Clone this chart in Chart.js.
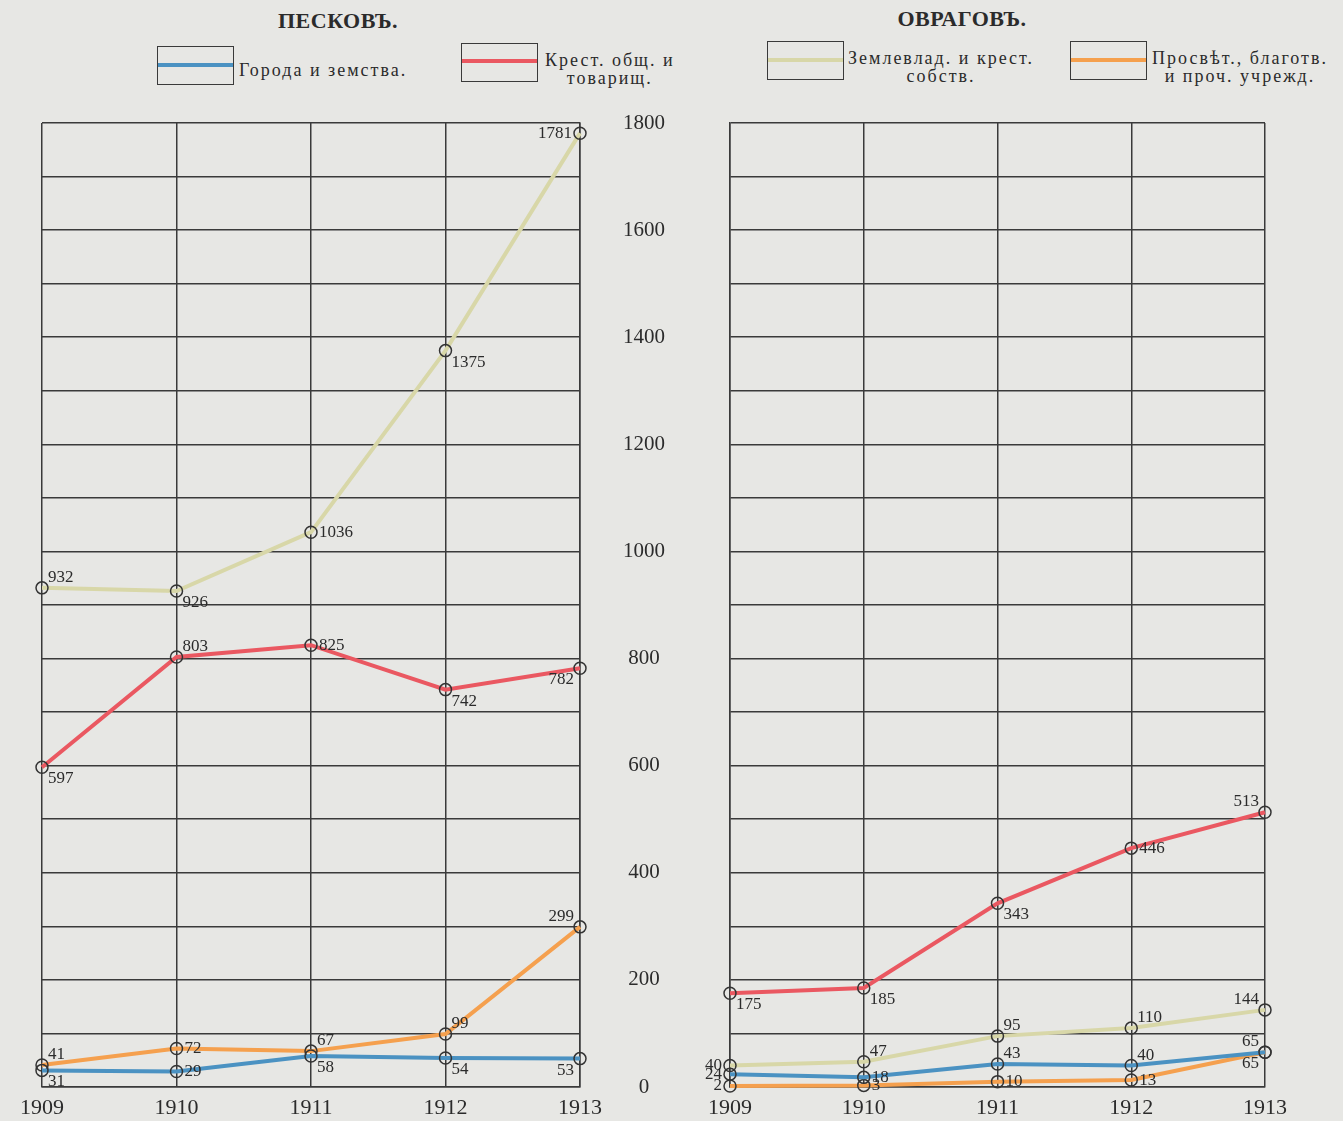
<!DOCTYPE html>
<html>
<head>
<meta charset="utf-8">
<script src="https://cdn.jsdelivr.net/npm/chart.js@4.4.0/dist/chart.umd.min.js"></script>
<style>
body{margin:0;background:#e7e7e4;width:1343px;height:1121px;position:relative;overflow:hidden;font-family:"Liberation Serif",serif;color:#2b2b2b}
.title{position:absolute;font-weight:bold;font-size:22px;letter-spacing:0.5px;transform:translateX(-50%);white-space:nowrap}
.box{position:absolute;width:77px;height:39px;border:1.5px solid #3a3a3a;box-sizing:border-box}
.box i{position:absolute;left:0;right:0;height:4px}
.lt{position:absolute;font-size:18px;line-height:18px;text-align:center;white-space:nowrap;letter-spacing:2px}
.wrap{position:absolute}
</style>
</head>
<body>
<div class="title" style="left:338px;top:8px">ПЕСКОВЪ.</div>
<div class="title" style="left:962px;top:6px">ОВРАГОВЪ.</div>

<div class="box" style="left:157px;top:46px"><i id="lg0" style="top:16px"></i></div>
<div class="lt" style="left:239px;top:61px">Города и земства.</div>
<div class="box" style="left:461px;top:43px"><i id="lg1" style="top:15px"></i></div>
<div class="lt" style="left:545px;top:51px">Крест. общ. и<br>товарищ.</div>
<div class="box" style="left:767px;top:41px"><i id="lg2" style="top:16px"></i></div>
<div class="lt" style="left:848px;top:49px">Землевлад. и крест.<br>собств.</div>
<div class="box" style="left:1070px;top:41px"><i id="lg3" style="top:16px"></i></div>
<div class="lt" style="left:1152px;top:49px">Просвѣт., благотв.<br>и проч. учрежд.</div>

<div class="wrap" style="left:0;top:100px"><canvas id="left" width="700" height="1021"></canvas></div>
<div class="wrap" style="left:700px;top:100px"><canvas id="right" width="643" height="1021"></canvas></div>

<script>
const years = ['1909', '1910', '1911', '1912', '1913'];
const seriesNames = ['Города и земства.', 'Крест. общ. и товарищ.', 'Землевлад. и крест. собств.', 'Просвѣт., благотв. и проч. учрежд.'];
const yTicks = [0, 200, 400, 600, 800, 1000, 1200, 1400, 1600, 1800];

// Песковъ
const leftTowns = [31, 29, 58, 54, 53];
const leftPeasants = [597, 803, 825, 742, 782];
const leftLandowners = [932, 926, 1036, 1375, 1781];
const leftEducation = [41, 72, 67, 99, 299];

// Овраговъ
const rightTowns = [24, 18, 43, 40, 65];
const rightPeasants = [175, 185, 343, 446, 513];
const rightLandowners = [40, 47, 95, 110, 144];
const rightEducation = [2, 3, 10, 13, 65];

const colors = ['#4b92c2', '#ea5861', '#d8d7a8', '#f5a04e'];

// where each value label sits relative to its point
const leftPlace = [
  ['se', 'e', 'se', 'se', 'sw'],
  ['se', 'ne', 'e', 'se', 'sw'],
  ['ne', 'se', 'e', 'se', 'w'],
  ['ne', 'e', 'ne', 'ne', 'nw']
];
const rightPlace = [
  ['w', 'e', 'ne', 'ne', 'nw'],
  ['se', 'se', 'se', 'e', 'nw'],
  ['w', 'ne', 'ne', 'ne', 'nw'],
  ['w', 'e', 'e', 'e', 'sw']
];

colors.forEach((c, i) => document.getElementById('lg' + i).style.background = c);

const valueLabels = {
  id: 'valueLabels',
  afterDatasetsDraw(chart, args, opts) {
    const ctx = chart.ctx;
    ctx.save();
    ctx.font = '17px "Liberation Serif"';
    ctx.fillStyle = '#2b2b2b';
    chart.data.datasets.forEach((ds, di) => {
      chart.getDatasetMeta(di).data.forEach((pt, i) => {
        const p = opts.place[di][i];
        let x = pt.x, y = pt.y;
        ctx.textAlign = p.includes('w') ? 'right' : 'left';
        x += p.includes('w') ? -6 : 6;
        if (p.includes('n')) { ctx.textBaseline = 'bottom'; y -= 2; }
        else if (p.includes('s')) { ctx.textBaseline = 'top'; y += 3; }
        else { ctx.textBaseline = 'middle'; x += p === 'e' ? 2 : -2; }
        ctx.fillText(ds.data[i], x, y);
      });
    });
    ctx.restore();
  }
};

function makeDatasets(values) {
  return values.map((v, i) => ({
    label: seriesNames[i],
    data: v,
    borderColor: colors[i],
    borderWidth: 4,
    tension: 0,
    clip: false,
    pointRadius: 6,
    pointStyle: 'circle',
    pointBackgroundColor: 'rgba(0,0,0,0)',
    pointBorderColor: '#333',
    pointBorderWidth: 1.5
  }));
}

const gridStyle = { color: '#3a3a3a', lineWidth: 1.5, drawTicks: false };
const borderStyle = { color: '#3a3a3a', width: 1.5 };

function makeChart(id, values, place, showY, padding) {
  return new Chart(document.getElementById(id), {
    type: 'line',
    data: { labels: years, datasets: makeDatasets(values) },
    options: {
      responsive: false,
      animation: false,
      layout: { padding: padding },
      plugins: { legend: { display: false }, tooltip: { enabled: false }, valueLabels: { place: place } },
      scales: {
        x: {
          offset: false,
          grid: gridStyle,
          border: borderStyle,
          ticks: { color: '#2b2b2b', font: { family: 'Liberation Serif', size: 22 }, padding: 8, maxRotation: 0 },
          afterFit: s => { s.height = 34; }
        },
        y: {
          position: showY ? 'right' : 'left',
          min: 0,
          max: 1800,
          grid: gridStyle,
          border: borderStyle,
          ticks: {
            display: showY,
            stepSize: 100,
            autoSkip: false,
            crossAlign: 'center',
            padding: 43,
            color: '#2b2b2b',
            font: { family: 'Liberation Serif', size: 21 },
            callback: v => yTicks.includes(v) ? v : ''
          },
          afterFit: s => {
            s.width = showY ? 120 : 0;
            s.paddingTop = 12;
            s.paddingBottom = 12;
          }
        }
      }
    },
    plugins: [valueLabels]
  });
}

makeChart('left', [leftTowns, leftPeasants, leftLandowners, leftEducation], leftPlace, true,
  { left: 42, top: 23, right: 0, bottom: 0 });
makeChart('right', [rightTowns, rightPeasants, rightLandowners, rightEducation], rightPlace, false,
  { left: 28, top: 23, right: 78, bottom: 0 });
</script>
</body>
</html>
